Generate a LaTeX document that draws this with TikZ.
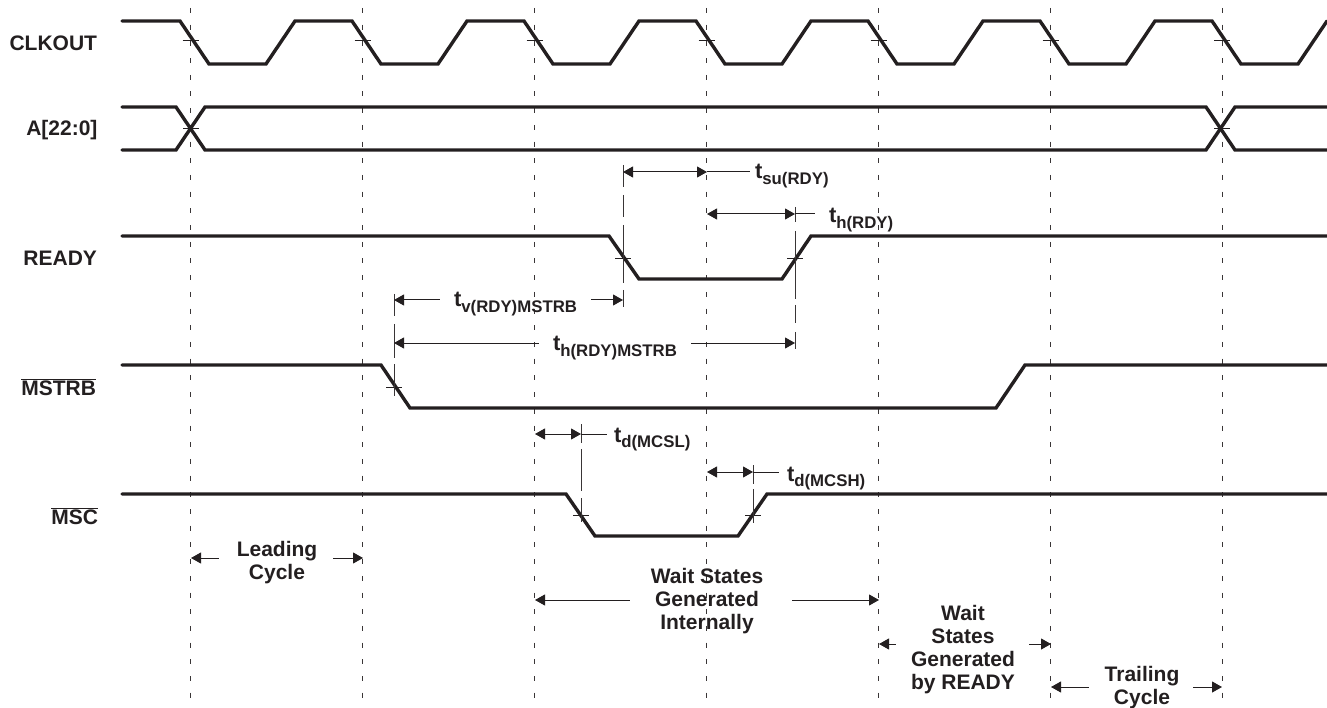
\documentclass[tikz,border=0pt]{standalone}
\usepackage{fontspec}
\setmainfont{Liberation Sans}[BoldFont={Liberation Sans Bold}]
\usetikzlibrary{arrows.meta}
\definecolor{ink}{HTML}{231F20}
\newcommand{\tsub}[1]{{\fontsize{22}{23}\selectfont t}\raisebox{-5.5pt}{\fontsize{16.8}{18}\selectfont #1}}
\tikzset{
  sig/.style={line width=3.4pt,color=ink,line join=miter,line cap=round},
  grid line/.style={line width=1.2pt,color=ink!90,dash pattern=on 5pt off 11.7pt},
  guide/.style={line width=1pt,color=ink!90},
  tickmark/.style={line width=0.8pt,color=ink},
  dim/.style={line width=1pt,color=ink},
  tip/.tip={Triangle[length=10pt,width=11pt]},
  lab/.style={font=\bfseries\fontsize{21}{23}\selectfont,text=ink,inner sep=0pt,outer sep=0pt},
  block/.style={lab,align=center,anchor=center},
}
\begin{document}
\begin{tikzpicture}[x=1pt,y=-1pt]
\useasboundingbox (0,0) rectangle (1327,708);
% grid lines
\foreach \n/\x in {0/190.7,1/362.7,2/534.7,3/706.7,4/878.7,5/1050.7,6/1222.2}{
  \coordinate (g\n t) at (\x,8);
  \coordinate (g\n b) at (\x,706);
  \draw[grid line] (g\n t) -- (g\n b);
}
% CLKOUT
\draw[sig] (122,21) -- (180,21) -- (209,64) -- (266,64) -- (295,21)
  -- (352,21) -- (381,64) -- (438,64) -- (467,21)
  -- (524,21) -- (553,64) -- (610,64) -- (639,21)
  -- (696,21) -- (725,64) -- (782,64) -- (811,21)
  -- (868,21) -- (897,64) -- (954,64) -- (983,21)
  -- (1040,21) -- (1069,64) -- (1126,64) -- (1155,21)
  -- (1212,21) -- (1241,64) -- (1298,64) -- (1327,21);
\foreach \x in {190.7,362.7,534.7,706.7,878.7,1050.7,1222.2}
  \draw[tickmark] (\x-8,40) -- (\x+8,40);
% A[22:0]
\draw[sig] (122,107) -- (176,107) -- (205,150) -- (1206,150) -- (1235,107) -- (1327,107);
\draw[sig] (122,150) -- (176,150) -- (205,107) -- (1206,107) -- (1235,150) -- (1327,150);
\draw[tickmark] (183,128) -- (199,128);
\draw[tickmark] (1214,128) -- (1230,128);
% READY
\draw[sig] (122,236) -- (609,236) -- (639,279) -- (782,279) -- (811,236) -- (1327,236);
\draw[tickmark] (615,258) -- (631,258);
\draw[tickmark] (787,258) -- (803,258);
% MSTRB
\draw[sig] (122,365) -- (381,365) -- (410,408) -- (996,408) -- (1025,365) -- (1327,365);
\draw[tickmark] (386,387) -- (402,387);
% MSC
\draw[sig] (122,494) -- (566,494) -- (595,536) -- (738,536) -- (767,494) -- (1327,494);
\draw[tickmark] (573,515) -- (589,515);
\draw[tickmark] (745,515) -- (761,515);
% guides
\coordinate (gSuT) at (623,165); \coordinate (gSuB) at (623,307);
\coordinate (gHT) at (795,207); \coordinate (gHB) at (795,349);
\coordinate (gMT) at (394,294); \coordinate (gMB) at (394,396);
\coordinate (gLT) at (581,424); \coordinate (gLB) at (581,522);
\coordinate (gCT) at (753,465); \coordinate (gCB) at (753,523);
\draw[guide,dash pattern=on 22pt off 8pt on 22pt off 8pt on 58pt off 7pt on 17pt off 10pt] (gSuT) -- (gSuB);
\draw[guide,dash pattern=on 15pt off 9pt on 68pt off 6pt on 18pt off 9pt on 17pt off 10pt] (gHT) -- (gHB);
\draw[guide,dash pattern=on 22pt off 8pt on 34pt off 6pt on 32pt off 10pt] (gMT) -- (gMB);
\draw[guide,dash pattern=on 19pt off 6pt on 42pt off 7pt on 24pt off 10pt] (gLT) -- (gLB);
\draw[guide,dash pattern=on 19pt off 5pt on 34pt off 10pt] (gCT) -- (gCB);
% signal labels
\node[lab,anchor=base east] (clk) at (97,51) {CLKOUT};
\node[lab,anchor=base east] (addr) at (97.5,136) {A[22:0]};
\node[lab,anchor=base east] (rdy) at (97,266) {READY};
\node[lab,anchor=base east] (mstrb) at (96,395) {$\overline{\hbox{MSTRB}}$};
\node[lab,anchor=base east] (msc) at (98,524) {$\overline{\hbox{MSC}}$};
% timing labels
\node[lab,anchor=base west] (tsu) at (755,179) {\tsub{su(RDY)}};
\node[lab,anchor=base west] (th) at (829,223) {\tsub{h(RDY)}};
\node[lab,anchor=base west] (tv) at (454,307) {\tsub{v(RDY)MSTRB}};
\node[lab,anchor=base west] (thm) at (553,351) {\tsub{h(RDY)MSTRB}};
\node[lab,anchor=base west] (tdl) at (614,442) {\tsub{d(MCSL)}};
\node[lab,anchor=base west] (tdh) at (787,481) {\tsub{d(MCSH)}};
% timing dimensions
\coordinate (a1) at (623,172); \coordinate (a2) at (707,172); \coordinate (a3) at (750,172);
\draw[dim,{tip}-{tip}] (a1) -- (a2);
\draw[dim] (a2) -- (a3);
\coordinate (b1) at (707,214); \coordinate (b2) at (795,214); \coordinate (b3) at (815,214);
\draw[dim,{tip}-{tip}] (b1) -- (b2);
\draw[dim] (b2) -- (b3);
\coordinate (c1) at (394,300); \coordinate (c2) at (440,300); \coordinate (c3) at (591,300); \coordinate (c4) at (623,300);
\draw[dim,{tip}-] (c1) -- (c2);
\draw[dim,-{tip}] (c3) -- (c4);
\coordinate (d1) at (394,343); \coordinate (d2) at (539,343); \coordinate (d3) at (691,343); \coordinate (d4) at (795,343);
\draw[dim,{tip}-] (d1) -- (d2);
\draw[dim,-{tip}] (d3) -- (d4);
\coordinate (e1) at (535,434); \coordinate (e2) at (581,434); \coordinate (e3) at (607,434);
\draw[dim,{tip}-{tip}] (e1) -- (e2);
\draw[dim] (e2) -- (e3);
\coordinate (f1) at (707,472); \coordinate (f2) at (753,472); \coordinate (f3) at (779,472);
\draw[dim,{tip}-{tip}] (f1) -- (f2);
\draw[dim] (f2) -- (f3);
% cycle labels
\node[block] (lead) at (277,563) {Leading\\Cycle};
\node[block] (wint) at (707,601) {Wait States\\Generated\\Internally};
\node[block] (wrdy) at (963,650) {Wait\\States\\Generated\\by READY};
\node[block] (trail) at (1142,688) {Trailing\\Cycle};
\coordinate (h1) at (191,558); \coordinate (h2) at (219,558); \coordinate (h3) at (333,558); \coordinate (h4) at (363,558);
\draw[dim,{tip}-] (h1) -- (h2);
\draw[dim,-{tip}] (h3) -- (h4);
\coordinate (i1) at (535,600); \coordinate (i2) at (630,600); \coordinate (i3) at (792,600); \coordinate (i4) at (879,600);
\draw[dim,{tip}-] (i1) -- (i2);
\draw[dim,-{tip}] (i3) -- (i4);
\coordinate (j1) at (879,644); \coordinate (j2) at (896,644); \coordinate (j3) at (1029,644); \coordinate (j4) at (1051,644);
\draw[dim,{tip}-] (j1) -- (j2);
\draw[dim,-{tip}] (j3) -- (j4);
\coordinate (k1) at (1051,687); \coordinate (k2) at (1089,687); \coordinate (k3) at (1193,687); \coordinate (k4) at (1222,687);
\draw[dim,{tip}-] (k1) -- (k2);
\draw[dim,-{tip}] (k3) -- (k4);
\end{tikzpicture}
\end{document}
